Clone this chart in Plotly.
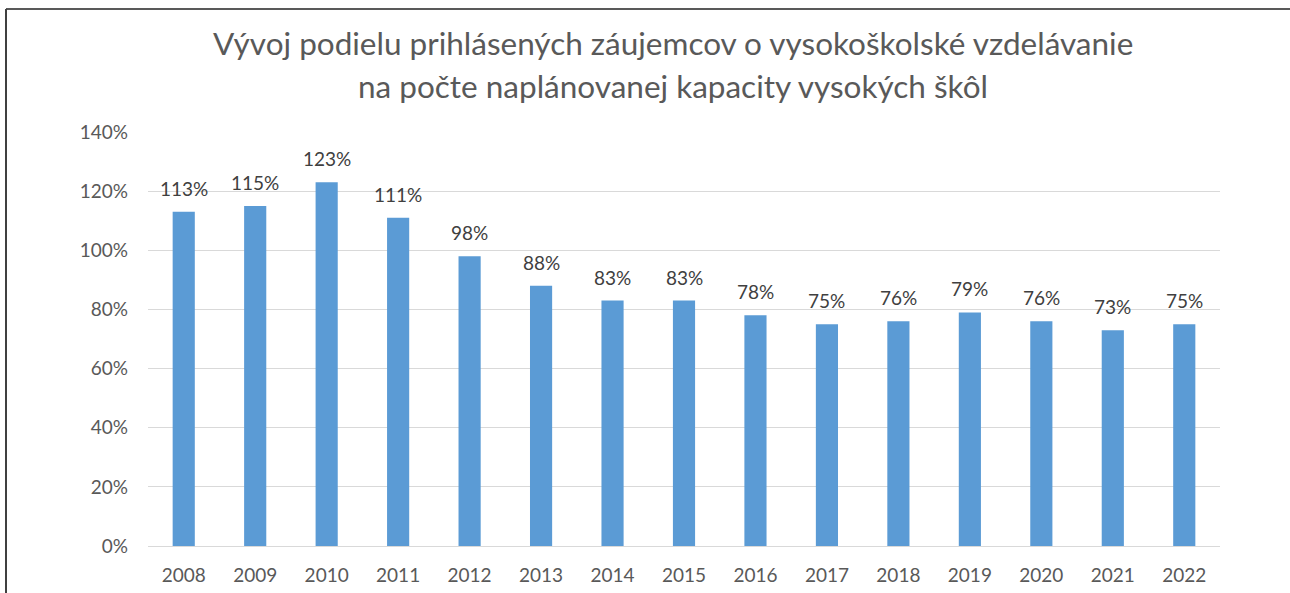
import plotly.graph_objects as go

years = ["2008", "2009", "2010", "2011", "2012", "2013", "2014", "2015",
         "2016", "2017", "2018", "2019", "2020", "2021", "2022"]
shares = [1.13, 1.15, 1.23, 1.11, 0.98, 0.88, 0.83, 0.83,
          0.78, 0.75, 0.76, 0.79, 0.76, 0.73, 0.75]
labels = [f"{round(v*100)}%" for v in shares]
title_lines = ["Vývoj podielu prihlásených záujemcov o vysokoškolské vzdelávanie",
               "na počte naplánovanej kapacity vysokých škôl"]

W, H = 1290, 593
L, R, T, B = 148, 70, 132, 47
FONT = "Lato"

fig = go.Figure(go.Bar(
    x=years, y=shares,
    marker=dict(color="#5B9BD5", line=dict(width=0)),
    width=0.31,
    hoverinfo="x+y",
))

# data labels (category index positions on the category axis)
for i, (v, lab) in enumerate(zip(shares, labels)):
    fig.add_annotation(x=i, y=v, xref="x", yref="y", text=lab, showarrow=False,
                       yanchor="bottom", xanchor="center", yshift=10,
                       font=dict(size=19, color="#404040", family=FONT))

pw = W - L - R
ph = H - T - B
def px2x(p):
    return (p - L) / pw
def py2y(p):
    return 1 - (p - T) / ph

# title lines
for line, ypx in zip(title_lines, [43, 86]):
    fig.add_annotation(x=px2x(673), y=py2y(ypx), xref="paper", yref="paper",
                       text=line, showarrow=False, xanchor="center", yanchor="middle",
                       font=dict(size=31.5, color="#595959", family=FONT))

fig.update_layout(
    width=W, height=H,
    margin=dict(l=L, r=R, t=T, b=B, autoexpand=False),
    paper_bgcolor="white", plot_bgcolor="white",
    showlegend=False,
    font=dict(family=FONT, color="#595959", size=19),
    xaxis=dict(type="category", range=[-0.5, len(years) - 0.5], automargin=False,
               showgrid=False, showline=True, linecolor="#D9D9D9", linewidth=1,
               ticks="", tickfont=dict(size=19, color="#595959"), ticklabelstandoff=12),
    yaxis=dict(range=[0, 1.4], dtick=0.2, tickformat=".0%", showgrid=True, automargin=False,
               gridcolor="#D9D9D9", gridwidth=1, zeroline=False, showline=False,
               ticks="", tickfont=dict(size=19, color="#595959"), ticklabelstandoff=19),
    bargap=0.69,
)

fig.add_shape(type="line", xref="paper", yref="paper",
              x0=px2x(6), x1=px2x(W + 5), y0=py2y(9), y1=py2y(9),
              line=dict(color="#595959", width=2))
fig.add_shape(type="line", xref="paper", yref="paper",
              x0=px2x(6), x1=px2x(6), y0=py2y(9), y1=py2y(H + 5),
              line=dict(color="#404040", width=2))

fig.write_html("out.html", config={"displayModeBar": False},
               post_script="document.body.style.margin='0';document.body.style.overflow='hidden';")
